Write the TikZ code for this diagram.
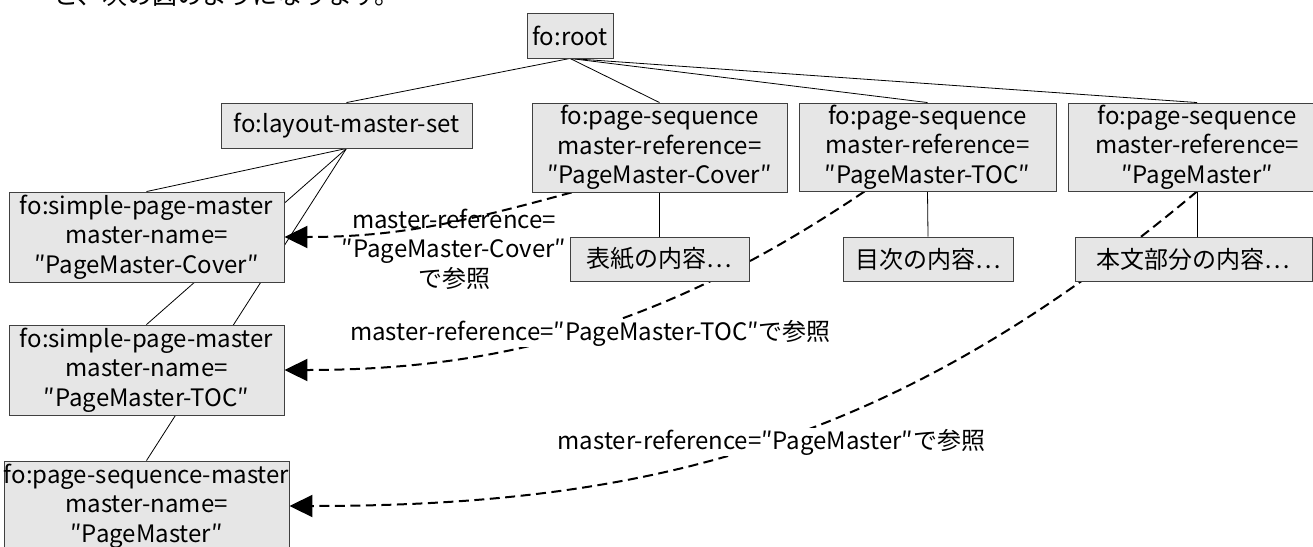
\documentclass[tikz,border=0pt]{standalone}
\usepackage{fontspec}
\setmainfont{Noto Sans CJK JP}
\usetikzlibrary{arrows.meta}
\pgfdeclarelayer{bg}
\pgfsetlayers{bg,main}
\definecolor{boxfill}{HTML}{E6E6E6}
\definecolor{boxline}{HTML}{404040}
\tikzset{
  fnt/.style={font=\fontsize{24}{29.5}\selectfont},
  box/.style={fnt, draw=boxline, fill=boxfill, line width=0.9pt, inner sep=0pt, align=center},
  tree/.style={draw=black, line width=0.8pt},
  ref/.style={draw=black, line width=2pt, dash pattern=on 10pt off 5.5pt, -{Triangle[length=23pt,width=22pt]}},
  lbl/.style={fnt, align=center, inner sep=1pt},
}
\begin{document}
\begin{tikzpicture}[x=1pt,y=-1pt]
\useasboundingbox (0,0) rectangle (1313,546);
% partially visible text above the figure
\node[font=\fontsize{25}{30}\selectfont, anchor=base west, inner sep=0pt] (intro) at (53,5) {と、次の図のようになります。};
% boxes
\node[box, minimum width=86pt, minimum height=45pt] (root) at (570,35.5) {fo:root};
\node[box, minimum width=251pt, minimum height=45pt] (lms) at (346.5,125.5) {fo:layout-master-set};
\node[box, minimum width=255pt, minimum height=89pt] (ps1) at (659.5,147.5) {fo:page-sequence\\master-reference=\\″PageMaster-Cover″};
\node[box, minimum width=257pt, minimum height=88pt] (ps2) at (927.5,147) {fo:page-sequence\\master-reference=\\″PageMaster-TOC″};
\node[box, minimum width=258pt, minimum height=88pt] (ps3) at (1197,147) {fo:page-sequence\\master-reference=\\″PageMaster″};
\node[box, minimum width=179pt, minimum height=44pt] (c1) at (659.5,259) {表紙の内容…};
\node[box, minimum width=170pt, minimum height=44pt] (c2) at (928,259) {目次の内容…};
\node[box, minimum width=237pt, minimum height=44pt] (c3) at (1193.5,259) {本文部分の内容…};
\node[box, minimum width=275pt, minimum height=90pt] (cover) at (146.5,237) {fo:simple-page-master\\master-name=\\″PageMaster-Cover″};
\node[box, minimum width=275pt, minimum height=90pt] (toc) at (146.5,370) {fo:simple-page-master\\master-name=\\″PageMaster-TOC″};
\node[box, minimum width=275pt, minimum height=90pt] (psm) at (146.5,506) {fo:page-sequence-master\\master-name=\\″PageMaster″};
% labels
\node[lbl] (lcover) at (454,249) {master-reference=\\″PageMaster-Cover″\\で参照};
\node[lbl, fill=white] (ltoc) at (590.5,333) {master-reference=″PageMaster-TOC″で参照};
\node[lbl, fill=white] (lpm) at (771.5,442) {master-reference=″PageMaster″で参照};
\begin{pgfonlayer}{bg}
  \draw[tree] (root.south) -- (lms.north);
  \draw[tree] (root.south) -- (ps1.north);
  \draw[tree] (root.south) -- (ps2.north);
  \draw[tree] (root.south) -- (ps3.north);
  \draw[tree] (lms.south) -- (cover.north);
  \draw[tree] (lms.south) -- (toc.north);
  \draw[tree] (lms.south) -- (psm.north);
  \draw[tree] (ps1.south) -- (c1.north);
  \draw[tree] (ps2.south) -- (c2.north);
  \draw[tree] (ps3.south) -- (ps3.south |- c3.north);
  \draw[ref] ([xshift=40pt]ps1.south west) .. controls +(-110,30) and +(114,0) .. (cover.east);
  \draw[ref] ([xshift=66pt]ps2.south west) .. controls +(-190,128) and +(229,0) .. (toc.east);
  \draw[ref] (ps3.south) .. controls +(-290,243) and +(378,0) .. (psm.east);
\end{pgfonlayer}
\end{tikzpicture}
\end{document}
